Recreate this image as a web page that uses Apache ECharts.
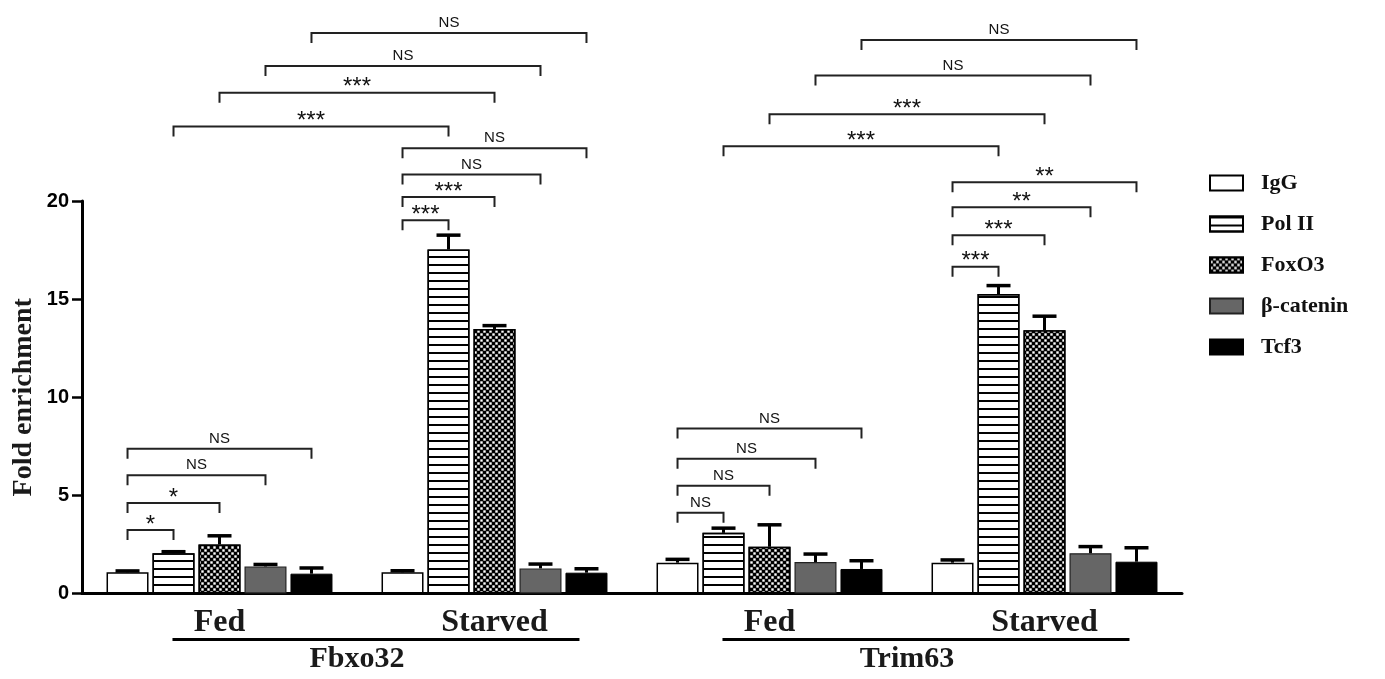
<!DOCTYPE html>
<html>
<head>
<meta charset="utf-8">
<script src="https://cdn.jsdelivr.net/npm/echarts@6/dist/echarts.min.js"></script>
<style>
  html, body { margin: 0; padding: 0; background: #fff; }
  #chart { width: 1385px; height: 679px; }
</style>
</head>
<body>
<div id="chart"></div>
<script>
// ChIP fold enrichment at the Fbxo32 and Trim63 promoters, fed vs starved
const conditions = ['Fed', 'Starved', 'Fed', 'Starved'];
const genes = ['Fbxo32', 'Trim63'];
const antibodies = ['IgG', 'Pol II', 'FoxO3', 'β-catenin', 'Tcf3'];
const yTicks = [0, 5, 10, 15, 20];

// mean fold enrichment, one value per condition column
const igg      = [1.08, 1.08, 1.57, 1.57];
const polII    = [2.05, 17.53, 3.09, 15.26];
const foxo3    = [2.50, 13.48, 2.38, 13.42];
const bCatenin = [1.38, 1.28, 1.60, 2.05];
const tcf3     = [1.01, 1.06, 1.25, 1.62];

// SEM for each mean
const iggErr      = [0.07, 0.08, 0.17, 0.14];
const polIIErr    = [0.08, 0.73, 0.24, 0.43];
const foxo3Err    = [0.44, 0.17, 1.12, 0.71];
const bCateninErr = [0.10, 0.22, 0.41, 0.34];
const tcf3Err     = [0.29, 0.20, 0.42, 0.71];

// significance vs IgG inside each condition (Pol II, FoxO3, β-catenin, Tcf3)
const withinLevels = [[3.23, 4.61, 6.02, 7.37], [19.02, 20.21, 21.35, 22.69],
                      [4.11, 5.49, 6.86, 8.41], [16.65, 18.26, 19.68, 20.96]];
const withinMarks  = [['*', '*', 'NS', 'NS'], ['***', '***', 'NS', 'NS'],
                      ['NS', 'NS', 'NS', 'NS'], ['***', '***', '**', '**']];
// significance fed vs starved for each gene (Pol II, FoxO3, β-catenin, Tcf3)
const acrossLevels = [[23.79, 25.51, 26.88, 28.56], [22.79, 24.42, 26.39, 28.20]];
const acrossMarks  = [['***', '***', 'NS', 'NS'], ['***', '***', 'NS', 'NS']];

const means = [igg, polII, foxo3, bCatenin, tcf3];
const errs = [iggErr, polIIErr, foxo3Err, bCateninErr, tcf3Err];

const BAR_W = 42;
const BAR_GAP_PCT = 9.5;
const STEP = BAR_W * (1 + BAR_GAP_PCT / 100);

const barStyles = [
  { color: '#fff', borderColor: '#000', borderWidth: 1.5 },
  { color: '#fff', borderColor: '#000', borderWidth: 1.5,
    decal: { symbol: 'rect', symbolSize: 1, symbolKeepAspect: false,
             dashArrayX: [1, 0], dashArrayY: [1.5, 5.5], color: '#000' } },
  { color: '#000', borderColor: '#000', borderWidth: 1.5,
    decal: { symbol: 'rect', symbolSize: 0.8, symbolKeepAspect: false,
             dashArrayX: [[3, 3], [0, 3, 3, 0]], dashArrayY: [3, 0], color: '#fff' } },
  { color: '#666', borderColor: '#222', borderWidth: 1.2 },
  { color: '#000', borderColor: '#000', borderWidth: 1 }
];

function barX(api, cond, ab) {
  return api.coord([cond, 0])[0] + (ab - 2) * STEP;
}

// error bar rows: [condition, antibody, mean, sem]
const errorRows = [];
means.forEach((arr, a) => arr.forEach((v, c) => errorRows.push([c, a, v, errs[a][c]])));

// bracket list built from the significance tables
const brackets = [];
withinLevels.forEach((lv, c) => lv.forEach((level, k) => {
  brackets.push({ c1: c, a1: 0, c2: c, a2: k + 1, level, mark: withinMarks[c][k] });
}));
acrossLevels.forEach((lv, g) => lv.forEach((level, k) => {
  brackets.push({ c1: 2 * g, a1: k + 1, c2: 2 * g + 1, a2: k + 1, level, mark: acrossMarks[g][k] });
}));

const serif = 'Liberation Serif, Times New Roman, serif';
const sans = 'Liberation Sans, Arial, sans-serif';

const chart = echarts.init(document.getElementById('chart'), null, { renderer: 'canvas' });

const barSeries = antibodies.map((name, a) => ({
  name, type: 'bar', data: means[a], barWidth: BAR_W, barGap: BAR_GAP_PCT + '%',
  itemStyle: barStyles[a], emphasis: { disabled: true }, z: 2
}));

chart.setOption({
  animation: false,
  backgroundColor: '#fff',
  grid: { left: 82, right: 203, top: 201, bottom: 85.5, containLabel: false, outerBoundsMode: 'none' },
  legend: {
    data: antibodies, orient: 'vertical', left: 1209, top: 171, padding: 0,
    icon: 'rect', itemWidth: 33, itemHeight: 15, itemGap: 17,
    selectedMode: false,
    textStyle: { fontFamily: serif, fontWeight: 'bold', fontSize: 22, color: '#111',
                 lineHeight: 24, padding: [0, 0, 0, 13] }
  },
  xAxis: [
    {
      type: 'category', data: conditions, position: 'bottom',
      axisLine: { lineStyle: { color: '#000', width: 3 } },
      axisTick: { show: false },
      axisLabel: { margin: 13, fontFamily: serif, fontWeight: 'bold', fontSize: 32, color: '#1a1a1a' }
    },
    {
      type: 'category', data: genes, position: 'bottom', gridIndex: 0,
      axisLine: { show: false }, axisTick: { show: false }, splitLine: { show: false },
      axisLabel: { margin: 51, fontFamily: serif, fontWeight: 'bold', fontSize: 30, color: '#1a1a1a' }
    }
  ],
  yAxis: {
    type: 'value', min: yTicks[0], max: yTicks[yTicks.length - 1], interval: yTicks[1] - yTicks[0],
    name: 'Fold enrichment', nameLocation: 'middle', nameRotate: 90, nameGap: 44,
    nameMoveOverlap: false,
    nameTextStyle: { fontFamily: serif, fontWeight: 'bold', fontSize: 28, color: '#1a1a1a' },
    axisLine: { show: true, lineStyle: { color: '#000', width: 3 } },
    axisTick: { show: true, length: 10, lineStyle: { color: '#000', width: 2.5 } },
    axisLabel: { margin: 13, fontFamily: sans, fontWeight: 'bold', fontSize: 20, color: '#000' },
    splitLine: { show: false }
  },
  series: [
    ...barSeries,
    {
      type: 'custom', name: 'sem', clip: false, silent: true, z: 5,
      data: errorRows, encode: { x: 0, y: 2 },
      renderItem(params, api) {
        const c = api.value(0), a = api.value(1), v = api.value(2), e = api.value(3);
        const x = barX(api, c, a);
        const yTop = api.coord([c, v])[1];
        const yEnd = api.coord([c, v + e])[1];
        return { type: 'group', children: [
          { type: 'line', shape: { x1: x, y1: yTop, x2: x, y2: yEnd }, style: { stroke: '#000', lineWidth: 3 } },
          { type: 'line', shape: { x1: x - 12, y1: yEnd, x2: x + 12, y2: yEnd }, style: { stroke: '#000', lineWidth: 3.5 } }
        ] };
      }
    },
    {
      type: 'custom', name: 'significance', clip: false, silent: true, z: 6,
      data: brackets.map(b => [b.c1, b.level]), encode: { x: 0, y: 1 },
      renderItem(params, api) {
        const b = brackets[params.dataIndex];
        const xa = barX(api, b.c1, b.a1);
        const xb = barX(api, b.c2, b.a2);
        const y = api.coord([b.c1, b.level])[1];
        const isNS = b.mark === 'NS';
        return { type: 'group', children: [
          { type: 'polyline', shape: { points: [[xa, y + 10], [xa, y], [xb, y], [xb, y + 10]] },
            style: { stroke: '#222', lineWidth: 2, fill: null } },
          { type: 'text', x: (xa + xb) / 2, y: isNS ? y - 10 : y - 5,
            style: { text: b.mark, fill: '#111', fontFamily: sans,
                     fontSize: isNS ? 15 : 24, align: 'center', verticalAlign: 'middle' } }
        ] };
      }
    },
    {
      type: 'custom', name: 'gene rule', clip: false, silent: true, z: 6,
      data: genes.map((g, i) => [2 * i, 0]), encode: { x: 0, y: 1 },
      renderItem(params, api) {
        const c = api.value(0);
        const band = api.size([1, 0])[0];
        const p1 = api.coord([c, 0]);
        const p2 = api.coord([c + 1, 0]);
        const y = p1[1] + 46;
        return { type: 'line', shape: { x1: p1[0] - 0.171 * band, y1: y, x2: p2[0] + 0.309 * band, y2: y },
                 style: { stroke: '#000', lineWidth: 3 } };
      }
    }
  ]
});
</script>
</body>
</html>
